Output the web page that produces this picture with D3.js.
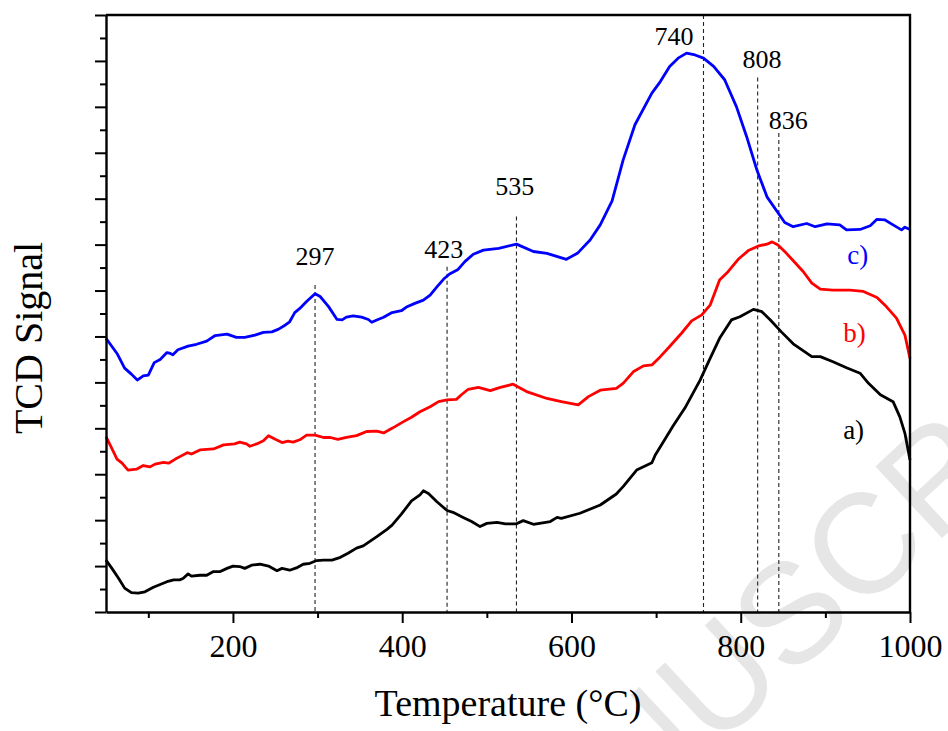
<!DOCTYPE html>
<html>
<head>
<meta charset="utf-8">
<script src="https://cdn.jsdelivr.net/npm/d3@7"></script>
<style>
  body { margin: 0; background: #fff; }
  svg { display: block; }
  svg text.serif { font-family: 'Liberation Serif', 'Times New Roman', Times, serif; }
</style>
</head>
<body>
<div id="chart"></div>
<script>
// TPR profiles, [temperature (°C), signal (a.u.)]
const seriesA = [[50,1.13],[57,0.95],[65,0.73],[72,0.52],[80,0.42],[88,0.41],[96,0.44],[106,0.54],[114,0.60],[122,0.66],[130,0.70],[137,0.70],[141,0.73],[147,0.83],[151,0.78],[161,0.80],[169,0.80],[177,0.88],[185,0.88],[193,0.95],[200,1.00],[208,0.99],[214,0.95],[222,1.02],[232,1.04],[242,1.00],[252,0.90],[258,0.95],[267,0.91],[275,0.96],[283,1.04],[291,1.06],[299,1.12],[307,1.13],[317,1.13],[327,1.19],[336,1.28],[346,1.39],[354,1.44],[370,1.64],[382,1.80],[388,1.89],[399,2.13],[411,2.42],[421,2.55],[425,2.64],[431,2.58],[441,2.40],[453,2.21],[460,2.17],[472,2.06],[482,1.97],[492,1.86],[500,1.93],[512,1.95],[522,1.92],[535,1.92],[543,1.99],[555,1.91],[575,1.97],[583,2.06],[588,2.04],[610,2.15],[634,2.33],[653,2.57],[661,2.73],[677,3.09],[695,3.25],[699,3.42],[711,3.78],[720,4.05],[734,4.44],[752,5.05],[763,5.49],[775,5.96],[789,6.36],[799,6.43],[815,6.59],[825,6.54],[835,6.36],[848,6.10],[862,5.84],[884,5.56],[894,5.56],[909,5.45],[925,5.32],[941,5.20],[951,4.98],[965,4.73],[980,4.58],[988,4.25],[994,3.89],[1000,3.31]];

const seriesB = [[50,3.82],[57,3.56],[63,3.33],[69,3.24],[76,3.09],[86,3.11],[94,3.19],[102,3.16],[108,3.22],[118,3.26],[124,3.24],[132,3.33],[139,3.40],[146,3.47],[151,3.44],[161,3.53],[177,3.55],[189,3.64],[202,3.66],[208,3.70],[216,3.66],[220,3.61],[228,3.66],[236,3.73],[242,3.84],[250,3.76],[258,3.69],[265,3.72],[271,3.70],[279,3.75],[287,3.85],[297,3.85],[307,3.80],[315,3.80],[324,3.76],[334,3.80],[346,3.84],[358,3.93],[370,3.94],[378,3.90],[389,4.01],[401,4.14],[411,4.24],[421,4.36],[433,4.47],[443,4.58],[453,4.62],[464,4.63],[470,4.73],[478,4.85],[490,4.89],[504,4.82],[516,4.89],[531,4.96],[547,4.80],[571,4.65],[588,4.58],[608,4.51],[620,4.69],[634,4.83],[653,4.87],[661,4.98],[673,5.23],[685,5.36],[695,5.38],[705,5.56],[716,5.78],[730,6.07],[742,6.34],[754,6.47],[764,6.69],[775,7.23],[785,7.41],[797,7.68],[809,7.87],[821,7.97],[831,8.01],[837,8.06],[844,7.99],[854,7.81],[864,7.61],[874,7.41],[884,7.16],[894,7.03],[909,7.01],[929,7.01],[945,6.98],[961,6.85],[972,6.65],[984,6.40],[994,6.03],[1000,5.52]];

const seriesC = [[50,5.96],[63,5.63],[72,5.31],[80,5.18],[87,5.05],[94,5.14],[100,5.16],[107,5.43],[114,5.50],[122,5.65],[126,5.63],[129,5.60],[135,5.71],[147,5.79],[157,5.83],[169,5.90],[179,6.02],[193,6.05],[204,5.98],[214,5.98],[226,6.03],[236,6.09],[246,6.10],[254,6.16],[262,6.25],[267,6.32],[273,6.52],[279,6.61],[287,6.76],[297,6.93],[303,6.87],[313,6.65],[323,6.37],[329,6.36],[334,6.42],[342,6.45],[352,6.42],[360,6.37],[364,6.31],[370,6.36],[378,6.42],[388,6.52],[399,6.56],[405,6.64],[415,6.72],[425,6.79],[433,6.90],[441,7.08],[449,7.25],[456,7.36],[466,7.46],[474,7.63],[484,7.79],[496,7.88],[514,7.92],[535,8.01],[555,7.85],[571,7.81],[594,7.68],[607,7.81],[622,8.10],[634,8.43],[648,8.95],[661,9.84],[675,10.61],[695,11.30],[705,11.55],[716,11.88],[726,12.06],[736,12.17],[746,12.13],[756,12.06],[768,11.88],[781,11.59],[795,11.00],[807,10.35],[819,9.63],[831,9.04],[843,8.72],[852,8.48],[862,8.39],[878,8.46],[888,8.39],[902,8.45],[917,8.43],[925,8.32],[941,8.33],[953,8.41],[961,8.55],[970,8.54],[980,8.43],[990,8.32],[994,8.38],[1000,8.33]];

const seriesNames = ['a)', 'b)', 'c)'];
const seriesColors = ['#000000', '#ff0000', '#0000ff'];
const nameTemp = [921, 921, 926];
const nameSignal = [3.77, 5.88, 7.58];

// peak markers
const markerTemp = [297, 453, 535, 756, 820, 845];
const markerTop = [7.12, 7.52, 8.61, 13, 11.64, 10.43];
const markerText = ['297', '423', '535', '740', '808', '836'];
const markerTextTemp = [297, 449, 533, 721, 825, 856];
const markerTextSignal = [7.56, 7.70, 9.08, 12.35, 11.84, 10.52];

const xMajor = [200, 400, 600, 800, 1000];
const xMinor = [100, 300, 500, 700, 900];
const yMajor = d3.range(0, 14, 1);
const yMinor = d3.range(0.5, 13, 1);

const margin = { t: 15, r: 38, b: 119, l: 106 };
const W = 948;
const H = 731;
const width = W - margin.l - margin.r;
const height = H - margin.t - margin.b;

const root = d3
  .select('#chart')
  .append('svg')
  .attr('width', W)
  .attr('height', H);

// watermark, centred on its "S"
const wm = root
  .append('text')
  .text('ACCEPTED MANUSCRIPT')
  .attr('font-family', "'Liberation Sans', Arial, sans-serif")
  .attr('font-size', 142)
  .attr('fill', '#e6e6e6');
const ex = wm.node().getExtentOfChar(13);
const cx = ex.x + ex.width / 2;
const cy = ex.y + ex.height / 2;
wm.attr('transform', `translate(790,612) rotate(-43) translate(${-cx},${-cy})`);

const svg = root.append('g').attr('transform', `translate(${margin.l}, ${margin.t})`);

const x = d3.scaleLinear().domain([50, 1000]).range([0, width]);
const y = d3.scaleLinear().domain([0, 13]).range([height, 0]);

// dashed peak lines
svg
  .selectAll('.marker')
  .data(markerTemp)
  .join('line')
  .attr('class', 'marker')
  .attr('x1', (d) => x(d))
  .attr('x2', (d) => x(d))
  .attr('y1', (d, i) => y(markerTop[i]))
  .attr('y2', height)
  .attr('stroke', '#222')
  .attr('stroke-width', 1.1)
  .attr('stroke-dasharray', '4,3');

svg
  .selectAll('.marker-label')
  .data(markerText)
  .join('text')
  .attr('class', 'marker-label serif')
  .attr('x', (d, i) => x(markerTextTemp[i]))
  .attr('y', (d, i) => y(markerTextSignal[i]))
  .attr('text-anchor', 'middle')
  .style('font-size', '26px')
  .text((d) => d);

// curves
const line = d3
  .line()
  .x((d) => x(d[0]))
  .y((d) => y(d[1]));

svg
  .selectAll('.curve')
  .data([seriesA, seriesB, seriesC])
  .join('path')
  .attr('class', 'curve')
  .attr('d', line)
  .attr('fill', 'none')
  .attr('stroke', (d, i) => seriesColors[i])
  .attr('stroke-width', 2.8)
  .attr('stroke-linejoin', 'round');

svg
  .selectAll('.series-name')
  .data(seriesNames)
  .join('text')
  .attr('class', 'series-name serif')
  .attr('x', (d, i) => x(nameTemp[i]))
  .attr('y', (d, i) => y(nameSignal[i]))
  .attr('fill', (d, i) => seriesColors[i])
  .style('font-size', '27px')
  .text((d) => d);

// x axis
const gx = svg
  .append('g')
  .attr('transform', `translate(0, ${height})`)
  .call(d3.axisBottom(x).tickValues(xMajor).tickSize(11).tickSizeOuter(0).tickPadding(11).tickFormat(d3.format('d')));
svg
  .append('g')
  .attr('transform', `translate(0, ${height})`)
  .call(d3.axisBottom(x).tickValues(xMinor).tickSize(6).tickSizeOuter(0).tickFormat(''))
  .call((g) => g.select('.domain').remove());

// y axis
svg
  .append('g')
  .call(d3.axisLeft(y).tickValues(yMajor).tickSize(11).tickSizeOuter(0).tickFormat(''));
svg
  .append('g')
  .call(d3.axisLeft(y).tickValues(yMinor).tickSize(6).tickSizeOuter(0).tickFormat(''))
  .call((g) => g.select('.domain').remove());

svg.selectAll('.domain').attr('stroke-width', 2.4);
svg.selectAll('.tick line').attr('stroke-width', 2);
gx.selectAll('text')
  .attr('class', 'serif')
  .style('font-size', '32px')
  .style('fill', '#000');

// frame top + right
svg
  .append('path')
  .attr('d', `M0,0H${width}V${height}`)
  .attr('fill', 'none')
  .attr('stroke', '#000')
  .attr('stroke-width', 2.4);

// axis names
root
  .append('text')
  .attr('class', 'serif')
  .attr('x', margin.l + width / 2)
  .attr('y', 716)
  .attr('text-anchor', 'middle')
  .style('font-size', '38px')
  .text('Temperature (°C)');
root
  .append('text')
  .attr('class', 'serif')
  .attr('transform', 'translate(42, 338) rotate(-90)')
  .attr('text-anchor', 'middle')
  .style('font-size', '40px')
  .text('TCD Signal');
</script>
</body>
</html>
